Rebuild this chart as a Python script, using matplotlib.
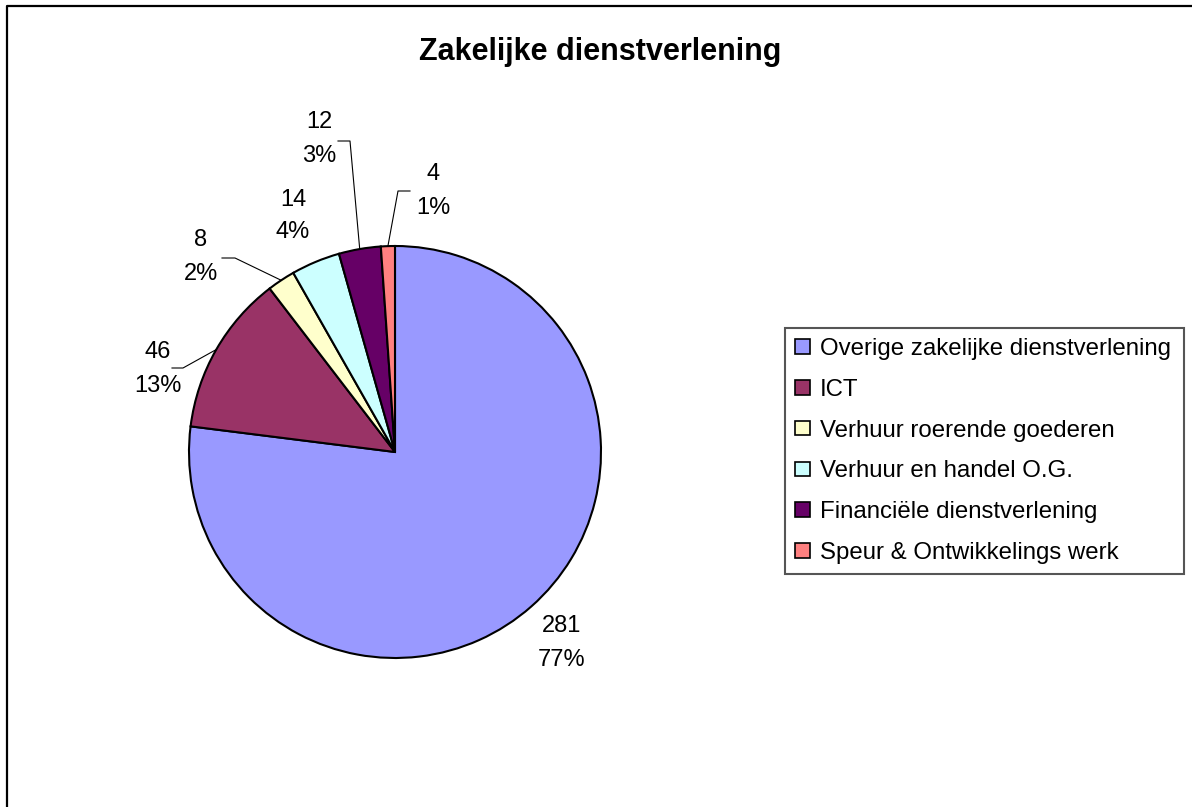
import numpy as np
import matplotlib.pyplot as plt
from matplotlib.patches import Patch

W, H = 1192, 807

labels = ["Overige zakelijke dienstverlening", "ICT", "Verhuur roerende goederen",
          "Verhuur en handel O.G.", "Financiële dienstverlening", "Speur & Ontwikkelings werk"]
values = [281, 46, 8, 14, 12, 4]
colors = ["#9999FF", "#993366", "#FFFFCC", "#CCFFFF", "#660066", "#FF8080"]

# label block centres (pixels, top-down) and leader elbows (None = no leader)
label_pos = [(562, 643), (158, 369), (201, 257), (293, 216), (319, 139), (433, 191)]
leader_elbow = [None, ((183, 368), (172, 368)), ((235, 258), (222, 258)), None,
                ((350, 141), (338, 141)), ((398, 191), (410, 191))]

cx, cy, r = 395, 452, 206

plt.rcParams['font.family'] = ['Liberation Sans', 'DejaVu Sans']

fig = plt.figure(figsize=(W / 100, H / 100), dpi=100)
ax = fig.add_axes([0, 0, 1, 1])


def Y(py):
    return H - py


wedges, _ = ax.pie(values, colors=colors, startangle=90, counterclock=False,
                   center=(cx, Y(cy)), radius=r, frame=True,
                   wedgeprops=dict(edgecolor="black", linewidth=1.5))
ax.set_xlim(0, W)
ax.set_ylim(0, H)
ax.axis("off")

total = sum(values)
for i, (v, w) in enumerate(zip(values, wedges)):
    lx, ly = label_pos[i]
    ax.text(lx, Y(ly - 16.5), f"{v}", ha="center", va="center", fontsize=17)
    ax.text(lx, Y(ly + 16.5), f"{round(100 * v / total)}%", ha="center", va="center", fontsize=17)
    if leader_elbow[i] is not None:
        mid = np.deg2rad((w.theta1 + w.theta2) / 2)
        px, py = cx + r * np.cos(mid), Y(cy) + r * np.sin(mid)
        (ex, ey), (tx, ty) = leader_elbow[i]
        ax.plot([px, ex, tx], [py, Y(ey), Y(ty)], color="black", lw=0.8)

ax.text(600, Y(52), "Zakelijke dienstverlening", ha="center", va="center",
        fontsize=22, fontweight="bold")

# outer chart frame (only left and top visible)
ax.plot([7, 7, W], [0, Y(6), Y(6)], color="black", lw=1.6, clip_on=False)

handles = [Patch(facecolor=c, edgecolor="black", linewidth=1.2) for c in colors]
leg = ax.legend(handles, labels, loc="upper left", mode="expand",
                bbox_to_anchor=(785, Y(574), 1184 - 785, 574 - 328),
                bbox_transform=ax.transData, borderaxespad=0,
                fontsize=17.3, handlelength=0.6, handleheight=0.55,
                handletextpad=0.42, labelspacing=0.78, borderpad=0.42,
                fancybox=False, framealpha=1)
leg.get_frame().set_edgecolor("#555555")
leg.get_frame().set_linewidth(1.5)

fig.savefig("out.png", dpi=100)
